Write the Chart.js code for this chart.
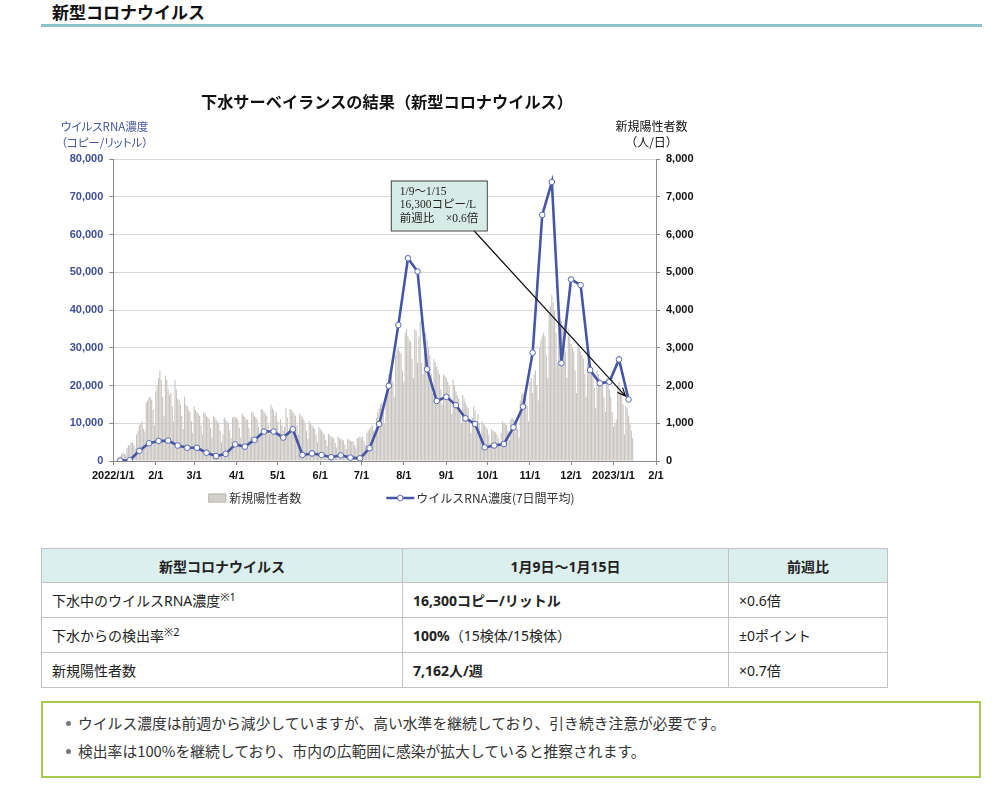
<!DOCTYPE html>
<html lang="ja">
<head>
<meta charset="utf-8">
<script src="https://cdn.jsdelivr.net/npm/chart.js@4.4.0/dist/chart.umd.min.js"></script>
<style>
  body { margin: 0; background: #fff; font-family: "Noto Sans CJK JP", "Noto Sans", sans-serif; color: #222; }
  #page { position: relative; width: 1005px; height: 801px; overflow: hidden; }
  h2 { position: absolute; left: 52px; top: 0; margin: 0; font-size: 17px; line-height: 24px; font-weight: bold; color: #111; }
  .rule { position: absolute; left: 41px; top: 24px; width: 941px; height: 3px; background: #8ec4cc; }
  #chartBox { position: absolute; left: 40px; top: 60px; width: 700px; height: 470px; }
  .ctitle { position: absolute; left: 201px; top: 91px; font-size: 16.2px; line-height: 20px; font-weight: bold; color: #111; white-space: nowrap; }
  .ltitle { position: absolute; left: 61px; top: 118px; font-size: 11.5px; line-height: 16px; color: #45569f; white-space: nowrap; font-feature-settings: "palt"; }
  .rtitle { position: absolute; left: 601px; top: 118px; width: 101px; text-align: center; font-size: 12px; line-height: 16px; color: #111; white-space: nowrap; }
  table { position: absolute; left: 41px; top: 548px; border-collapse: collapse; font-size: 14px; color: #222;
    font-family: "Noto Sans", "Noto Sans CJK JP", sans-serif; }
  td, th { border: 1px solid #c2c2c2; padding: 0 10px; text-align: left; }
  th { background: #dcefef; font-weight: bold; text-align: center; height: 33px; }
  td { height: 34px; }
  sup { font-size: 11px; vertical-align: 5px; line-height: 0; }
  .b { font-weight: bold; }
  .note { position: absolute; left: 41px; top: 701px; width: 936px; height: 73px; border: 2px solid #a8c94c; }
  .li { position: absolute; left: 35px; font-size: 14.8px; line-height: 20px; color: #333; white-space: nowrap; }
  .li::before { content: ""; position: absolute; left: -12px; top: 8px; width: 5px; height: 5px; border-radius: 50%; background: #777; }
</style>
</head>
<body>
<div id="page">
  <h2>新型コロナウイルス</h2>
  <div class="rule"></div>

  <div id="chartBox"><canvas id="Sewage"></canvas></div>
  <div class="ctitle">下水サーベイランスの結果（新型コロナウイルス）</div>
  <div class="ltitle">ウイルスRNA濃度<br>（コピー/リットル）</div>
  <div class="rtitle">新規陽性者数<br>（人/日）</div>

  <table>
    <tr><th style="width:340px">新型コロナウイルス</th><th style="width:305px">1月9日～1月15日</th><th style="width:138px">前週比</th></tr>
    <tr><td>下水中のウイルスRNA濃度<sup>※1</sup></td><td class="b">16,300コピー/リットル</td><td>×0.6倍</td></tr>
    <tr><td>下水からの検出率<sup>※2</sup></td><td><span class="b">100%</span>（15検体/15検体）</td><td>±0ポイント</td></tr>
    <tr><td>新規陽性者数</td><td class="b">7,162人/週</td><td>×0.7倍</td></tr>
  </table>

  <div class="note">
    <div class="li" style="top:10px">ウイルス濃度は前週から減少していますが、高い水準を継続しており、引き続き注意が必要です。</div>
    <div class="li" style="top:38px">検出率は100%を継続しており、市内の広範囲に感染が拡大していると推察されます。</div>
  </div>
</div>

<script>
// x axis: month starts and their labels
const tickDates = ["2022-01-01", "2022-02-01", "2022-03-01", "2022-04-01", "2022-05-01", "2022-06-01", "2022-07-01",
  "2022-08-01", "2022-09-01", "2022-10-01", "2022-11-01", "2022-12-01", "2023-01-01", "2023-02-01"];
const tickLabels = ["2022/1/1", "2/1", "3/1", "4/1", "5/1", "6/1", "7/1", "8/1", "9/1", "10/1", "11/1", "12/1", "2023/1/1", "2/1"];

// new positives per day (right axis), one array per month
const cases2022Jan = [30, 20, 20, 60, 90, 130, 180, 220, 200, 170, 340, 420, 420, 480, 500, 430, 330, 700, 800, 950, 1000, 1050, 850, 780, 1550, 1600, 1680, 1700, 1620, 1350, 950];
const cases2022Feb = [1850, 2000, 2200, 2400, 2150, 1700, 1200, 2250, 2150, 1900, 1750, 1800, 1450, 1050, 2150, 1900, 1650, 1600, 1500, 1200, 850, 1700, 1500, 1450, 1350, 1300, 1050, 750];
const cases2022Mar = [1450, 1350, 1300, 1250, 1200, 950, 700, 1300, 1250, 1200, 1150, 1100, 880, 620, 1200, 1150, 1100, 1050, 1000, 800, 500, 700, 1150, 1100, 1050, 1000, 820, 600, 1150, 1180, 1150];
const cases2022Apr = [1150, 1100, 880, 620, 1250, 1200, 1150, 1100, 1100, 880, 650, 1300, 1280, 1200, 1150, 1100, 900, 680, 1380, 1350, 1300, 1250, 1200, 950, 700, 1500, 1420, 1350, 1200, 1300];
const cases2022May = [1050, 750, 1100, 950, 800, 900, 1400, 1150, 800, 1380, 1350, 1300, 1250, 1200, 950, 700, 1250, 1200, 1150, 1100, 1000, 800, 580, 1050, 1000, 950, 900, 850, 680, 500, 900];
const cases2022Jun = [850, 800, 750, 700, 560, 400, 720, 680, 650, 620, 600, 480, 350, 640, 600, 580, 560, 540, 430, 320, 580, 560, 540, 520, 520, 420, 330, 600, 620, 640];
const cases2022Jul = [600, 650, 520, 420, 750, 800, 850, 900, 950, 800, 650, 1150, 1300, 1400, 1500, 1550, 1300, 1000, 1700, 2100, 2300, 2400, 2450, 2100, 1700, 2800, 2950, 3000, 2900, 2850, 2400];
const cases2022Aug = [2100, 3400, 3500, 3300, 3200, 3150, 2700, 2200, 3500, 3450, 2600, 3300, 3700, 2600, 2300, 3200, 3400, 3200, 3000, 2800, 2300, 1800, 2700, 2600, 2500, 2400, 2300, 1900, 1500, 2300, 2250];
const cases2022Sep = [2200, 2100, 2000, 1700, 1250, 2150, 2000, 1850, 1750, 1650, 1350, 1000, 1750, 1650, 1550, 1450, 1400, 1100, 750, 1150, 1450, 1350, 1050, 1250, 1000, 650, 1050, 1000, 950, 900];
const cases2022Oct = [850, 700, 480, 850, 800, 780, 760, 700, 600, 420, 750, 1050, 1000, 980, 950, 800, 560, 1100, 1150, 1100, 1050, 1000, 850, 620, 1600, 1750, 1800, 1750, 1700, 1450, 1050];
const cases2022Nov = [2100, 2200, 1800, 2300, 2400, 2000, 1600, 3000, 3200, 3300, 3400, 3300, 2800, 2200, 3900, 4100, 4400, 4200, 4000, 3400, 2600, 3800, 2900, 3700, 3600, 3500, 2900, 2200, 3500, 3300];
const cases2022Dec = [3100, 3000, 2900, 2400, 1800, 3100, 3000, 2900, 2800, 2700, 2300, 1700, 2600, 2500, 2450, 2400, 2300, 1950, 1400, 2400, 2300, 2200, 2100, 2000, 1700, 1300, 2200, 2100, 1900, 1700, 1300];
const cases2023Jan = [900, 1000, 1100, 2000, 2100, 1900, 1800, 1500, 700, 1450, 1400, 1200, 1000, 800, 610];
const casesFirstDate = "2022-01-01";

// virus RNA, 7-day average (left axis), one point per week, first at the middle of the week of 1/3-1/9
const rnaFirstDate = "2022-01-06";
const rnaWeekly = [100, 200, 2700, 4700, 5300, 5400, 4100, 3500, 3500, 2200,
  1300, 1900, 4400, 3800, 5600, 7800, 7800, 6200, 8400, 1600,
  2000, 1600, 1000, 1500, 900, 700, 3400, 9800, 19900, 36000,
  53700, 50200, 24300, 15900, 17000, 14800, 11300, 9800, 3600, 4100,
  4500, 8900, 14400, 28700, 65200, 73900, 25900, 48100, 46600, 24100,
  20600, 21000, 26900, 16300];

const calloutLines = ["1/9～1/15", "16,300コピー/L", "前週比　×0.6倍"];

const DAY0 = Date.UTC(2022, 0, 1);
function dayOf(s) {
  const [y, m, d] = s.split("-").map(Number);
  return Math.round((Date.UTC(y, m - 1, d) - DAY0) / 86400000);
}

const tickDays = tickDates.map(dayOf);
const dailyCases = [].concat(cases2022Jan, cases2022Feb, cases2022Mar, cases2022Apr, cases2022May, cases2022Jun,
  cases2022Jul, cases2022Aug, cases2022Sep, cases2022Oct, cases2022Nov, cases2022Dec, cases2023Jan);
const caseStart = dayOf(casesFirstDate);
const casePoints = dailyCases.map((v, i) => ({ x: caseStart + i, y: v }));
const rnaStart = dayOf(rnaFirstDate);
const rnaPoints = rnaWeekly.map((v, i) => ({ x: rnaStart + 7 * i, y: v }));

const tickFont = { family: '"Liberation Sans", Arial, sans-serif', size: 11, weight: "bold" };
const LINE = "#4656a6";
const BAR = "#c7c3bf";

// callout box + arrow pointing at the latest week
const calloutPlugin = {
  id: "callout",
  afterDatasetsDraw(chart) {
    const { ctx, chartArea } = chart;
    const pts = chart.getDatasetMeta(0).data;
    const tip = pts[pts.length - 1];
    const bx = chartArea.left + 277.5, by = chartArea.top + 21.5, bw = 96, bh = 50;
    ctx.save();
    const sx = bx + 83, sy = by + bh;
    const ang = Math.atan2(tip.y - sy, tip.x - sx);
    const ex = tip.x - Math.cos(ang) * 4.5, ey = tip.y - Math.sin(ang) * 4.5;
    ctx.strokeStyle = "#111";
    ctx.lineWidth = 1.2;
    ctx.beginPath();
    ctx.moveTo(sx, sy);
    ctx.lineTo(ex, ey);
    ctx.moveTo(ex - 9 * Math.cos(ang - 0.4), ey - 9 * Math.sin(ang - 0.4));
    ctx.lineTo(ex, ey);
    ctx.lineTo(ex - 9 * Math.cos(ang + 0.4), ey - 9 * Math.sin(ang + 0.4));
    ctx.stroke();
    ctx.fillStyle = "#d7ece7";
    ctx.fillRect(bx, by, bw, bh);
    ctx.strokeStyle = "#444";
    ctx.lineWidth = 1;
    ctx.strokeRect(bx + 0.5, by + 0.5, bw, bh);
    ctx.fillStyle = "#222";
    ctx.font = '11.5px "Liberation Serif", "Noto Sans CJK JP", serif';
    ctx.textBaseline = "middle";
    calloutLines.forEach((t, i) => ctx.fillText(t, bx + 9, by + 11 + i * 13.5));
    ctx.restore();
  }
};

// legend under the x axis, like the original sheet
const legendPlugin = {
  id: "sheetLegend",
  afterDraw(chart) {
    const { ctx, chartArea } = chart;
    const y = chartArea.bottom + 37;
    const ds = chart.data.datasets;
    ctx.save();
    ctx.font = '12px "Noto Sans CJK JP", sans-serif';
    ctx.textBaseline = "middle";
    // bars
    let x = chartArea.left + 95;
    ctx.fillStyle = "#d3d0cc";
    ctx.fillRect(x, y - 4.5, 18, 9);
    ctx.strokeStyle = "#bcb8b3";
    ctx.strokeRect(x + 0.5, y - 4, 17, 8);
    ctx.fillStyle = "#333";
    ctx.fillText(ds[1].label, x + 21, y);
    // line
    x = chartArea.left + 273;
    ctx.strokeStyle = LINE;
    ctx.lineWidth = 2.5;
    ctx.beginPath();
    ctx.moveTo(x, y);
    ctx.lineTo(x + 28, y);
    ctx.stroke();
    ctx.beginPath();
    ctx.arc(x + 14, y, 2.8, 0, Math.PI * 2);
    ctx.fillStyle = "#fff";
    ctx.fill();
    ctx.lineWidth = 1;
    ctx.strokeStyle = "#5a68b2";
    ctx.stroke();
    ctx.fillStyle = "#333";
    ctx.fillText(ds[0].label, x + 30, y);
    ctx.restore();
  }
};

function createSewageChart() {
  const canvas = document.querySelector("#Sewage");
  const options = {
    type: "bar",
    data: {
      datasets: [
        {
          type: "line",
          label: "ウイルスRNA濃度(7日間平均)",
          data: rnaPoints,
          yAxisID: "y",
          borderColor: LINE,
          borderWidth: 2.6,
          tension: 0,
          pointRadius: 2.8,
          pointBackgroundColor: "#fff",
          pointBorderColor: "#5a68b2",
          pointBorderWidth: 1,
          order: 0
        },
        {
          type: "bar",
          label: "新規陽性者数",
          data: casePoints,
          yAxisID: "y1",
          backgroundColor: BAR,
          barPercentage: 0.8,
          categoryPercentage: 1,
          order: 1
        }
      ]
    },
    options: {
      responsive: true,
      maintainAspectRatio: false,
      animation: false,
      layout: { padding: { top: 99, bottom: 47, left: 0, right: 0 } },
      plugins: {
        legend: { display: false },
        tooltip: { enabled: false },
        title: { display: false }
      },
      scales: {
        x: {
          type: "linear",
          min: tickDays[0],
          max: tickDays[tickDays.length - 1],
          offset: false,
          grid: { offset: false, drawOnChartArea: false, drawTicks: true, tickLength: 4, tickColor: "#8a8a8a" },
          border: { color: "#8a8a8a" },
          afterBuildTicks: (s) => { s.ticks = tickDays.map((v) => ({ value: v })); },
          afterFit: (s) => { s.height = 22; },
          ticks: {
            autoSkip: false,
            maxRotation: 0,
            padding: 4,
            color: "#111",
            font: tickFont,
            callback: (v) => { const i = tickDays.indexOf(v); return i < 0 ? "" : tickLabels[i]; }
          }
        },
        y: {
          position: "left",
          min: 0,
          max: 80000,
          grid: { color: "#dadada", tickColor: "#8a8a8a", tickLength: 4 },
          border: { color: "#8a8a8a" },
          afterFit: (s) => { s.width = 73.3; },
          ticks: {
            stepSize: 10000,
            padding: 6,
            color: "#3f4e96",
            font: tickFont,
            callback: (v) => v.toLocaleString("en-US")
          }
        },
        y1: {
          position: "right",
          min: 0,
          max: 8000,
          grid: { drawOnChartArea: false, tickColor: "#8a8a8a", tickLength: 4 },
          border: { color: "#8a8a8a" },
          afterFit: (s) => { s.width = 84; },
          ticks: {
            stepSize: 1000,
            padding: 6,
            color: "#111",
            font: tickFont,
            callback: (v) => v.toLocaleString("en-US")
          }
        }
      }
    },
    plugins: [calloutPlugin, legendPlugin]
  };
  const chart = new Chart(canvas.getContext("2d"), options);
}

createSewageChart();
</script>
</body>
</html>
